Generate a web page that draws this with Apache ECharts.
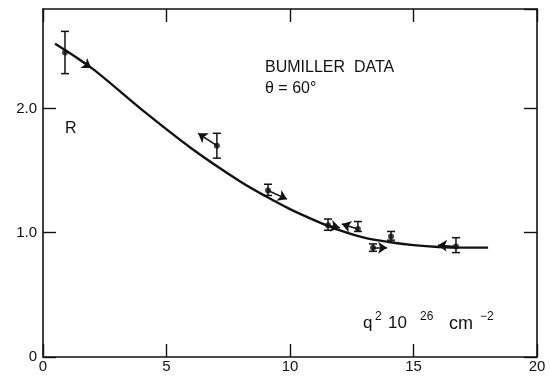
<!DOCTYPE html>
<html>
<head>
<meta charset="utf-8">
<script src="https://cdn.jsdelivr.net/npm/echarts@6/dist/echarts.min.js"></script>
<style>
html,body{margin:0;padding:0;background:#fff;}
#chart{width:550px;height:377px;}
</style>
</head>
<body>
<div id="chart"></div>
<script>
// Fitted curve (q^2 in 1e-26 cm^-2, R)
const curveX = [0.49, 2.0, 4.0, 6.0, 8.0, 9.0, 10.0, 11.0, 12.0, 13.0, 14.0, 15.0, 16.0, 17.0, 18.02];
const curveY = [2.52, 2.32, 1.99, 1.68, 1.41, 1.295, 1.19, 1.10, 1.02, 0.96, 0.925, 0.90, 0.885, 0.88, 0.88];

// Bumiller data points
const dataX  = [0.89, 7.04, 9.11, 11.54, 12.75, 13.36, 14.09, 16.72];
const dataY  = [2.45, 1.70, 1.34, 1.06, 1.03, 0.88, 0.97, 0.89];
const errLo  = [2.28, 1.60, 1.30, 1.02, 1.01, 0.85, 0.94, 0.84];
const errHi  = [2.62, 1.80, 1.39, 1.11, 1.09, 0.91, 1.01, 0.96];

// Arrows (tail -> tip)
const arrowFromX = [1.40, 7.04, 9.11, 11.54, 12.75, 13.36, 16.72];
const arrowFromY = [2.40, 1.70, 1.34, 1.06, 1.03, 0.88, 0.89];
const arrowToX   = [1.95, 6.28, 9.88, 12.02, 12.10, 13.93, 15.99];
const arrowToY   = [2.325, 1.80, 1.27, 1.04, 1.07, 0.88, 0.90];

const xTicks = [0, 5, 10, 15, 20];
const yTicks = [0, 1, 2];

const FONT = 'Liberation Sans';
const INK = '#111';

const chart = echarts.init(document.getElementById('chart'));

const axisLine = {show: true, onZero: false, lineStyle: {color: INK, width: 1.6}};
const tick = {show: true, inside: true, length: 13, lineStyle: {color: INK, width: 1.4}};

function txt(left, top, text, size) {
  return {type: 'text', left: left, top: top,
          style: {text: text, fill: INK, font: size + 'px "Liberation Sans"'}};
}

const option = {
  backgroundColor: '#fff',
  animation: false,
  grid: {left: 43, right: 13, top: 9, bottom: 20, containLabel: false},
  xAxis: [
    {type: 'value', min: 0, max: 20, interval: 5, position: 'bottom',
     axisLine: axisLine, axisTick: tick, splitLine: {show: false},
     axisLabel: {color: INK, fontSize: 15, fontFamily: FONT, margin: 2,
       formatter: v => xTicks.indexOf(v) >= 0 ? String(v) : ''}},
    {type: 'value', min: 0, max: 20, interval: 5, position: 'top',
     axisLine: axisLine, axisTick: tick, splitLine: {show: false},
     axisLabel: {show: false}}
  ],
  yAxis: [
    {type: 'value', min: 0, max: 2.8, interval: 1, position: 'left',
     axisLine: axisLine, axisTick: tick, splitLine: {show: false},
     axisLabel: {color: INK, fontSize: 15, fontFamily: FONT, margin: 6, showMaxLabel: false,
       formatter: v => yTicks.indexOf(v) < 0 ? '' : (v === 0 ? '0' : v.toFixed(1))}},
    {type: 'value', min: 0, max: 2.8, interval: 1, position: 'right',
     axisLine: axisLine, axisTick: tick, splitLine: {show: false},
     axisLabel: {show: false}}
  ],
  series: [
    {type: 'line', smooth: 0.3, symbol: 'none',
     lineStyle: {color: INK, width: 2.4},
     data: curveX.map((x, i) => [x, curveY[i]]), z: 2},
    {type: 'custom',
     renderItem: function (params, api) {
       const x = api.value(0);
       const lo = api.coord([x, api.value(1)]);
       const hi = api.coord([x, api.value(2)]);
       const cw = 4;
       const st = {stroke: INK, lineWidth: 1.5};
       return {type: 'group', children: [
         {type: 'line', shape: {x1: lo[0], y1: lo[1], x2: hi[0], y2: hi[1]}, style: st},
         {type: 'line', shape: {x1: lo[0]-cw, y1: lo[1], x2: lo[0]+cw, y2: lo[1]}, style: st},
         {type: 'line', shape: {x1: hi[0]-cw, y1: hi[1], x2: hi[0]+cw, y2: hi[1]}, style: st}
       ]};
     },
     data: dataX.map((x, i) => [x, errLo[i], errHi[i]]), z: 3},
    {type: 'scatter', symbol: 'circle', symbolSize: 6,
     itemStyle: {color: INK},
     data: dataX.map((x, i) => [x, dataY[i]]), z: 4},
    {type: 'lines', coordinateSystem: 'cartesian2d',
     symbol: ['none', 'arrow'], symbolSize: [6, 9],
     lineStyle: {color: INK, width: 1.5, opacity: 1},
     data: arrowFromX.map((x, i) => ({coords: [[x, arrowFromY[i]], [arrowToX[i], arrowToY[i]]]})),
     z: 5}
  ],
  graphic: [
    txt(265, 60, 'BUMILLER  DATA', 16),
    txt(265, 81, 'θ = 60°', 16),
    txt(65, 121, 'R', 16),
    // axis title  q² 10 ²⁶ cm⁻²
    txt(363, 315, 'q', 17),
    txt(375, 311, '2', 12),
    txt(388, 315, '10', 17),
    txt(420, 311, '26', 12),
    txt(449, 315, 'cm', 18),
    txt(480, 311, '−2', 12)
  ]
};
chart.setOption(option);
</script>
</body>
</html>
